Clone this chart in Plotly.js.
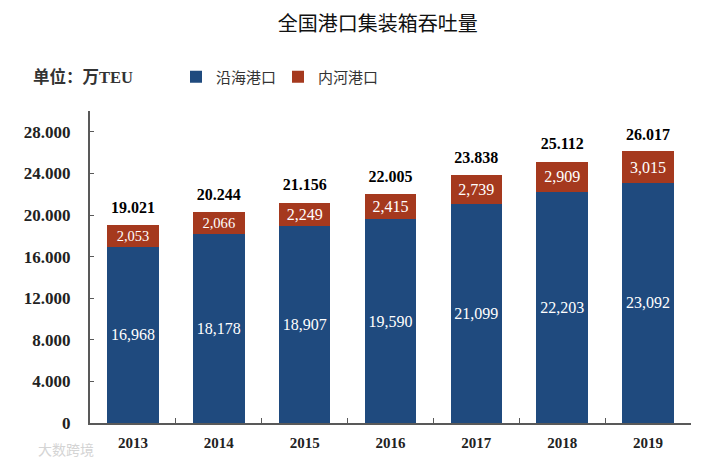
<!DOCTYPE html>
<html>
<head>
<meta charset="utf-8">
<script src="https://cdn.plot.ly/plotly-3.0.1.min.js"></script>
<style>html,body{margin:0;padding:0;background:#fff;}#chart{width:710px;height:464px;}</style>
</head>
<body>
<div id="chart"></div>
<script>
var years = ['2013', '2014', '2015', '2016', '2017', '2018', '2019'];
var coastal = [16968, 18178, 18907, 19590, 21099, 22203, 23092];
var inland = [2053, 2066, 2249, 2415, 2739, 2909, 3015];
var totals = [19021, 20244, 21156, 22005, 23838, 25112, 26017];
var yTickVals = [0, 4000, 8000, 12000, 16000, 20000, 24000, 28000];
var yTickText = ['0', '4.000', '8.000', '12.000', '16.000', '20.000', '24.000', '28.000'];
var seriesNames = ['沿海港口', '内河港口'];
var titleText = '全国港口集装箱吞吐量';
var unitText = '单位：万TEU';
var watermarkText = '大数跨境';

function fmt(v, sep) {
  var s = String(v);
  return s.replace(/\B(?=(\d{3})+(?!\d))/g, sep);
}

var serif = '"Liberation Serif", "Times New Roman", serif';
var cjk = '"Noto Sans CJK SC", sans-serif';

var traces = [
  {
    type: 'bar', name: seriesNames[0], x: years, y: coastal, legend: 'legend',
    marker: {color: '#1f4a7e'},
    text: coastal.map(function (v) { return fmt(v, ','); }),
    textposition: 'inside', insidetextanchor: 'middle',
    textfont: {family: serif, size: 16, color: '#ffffff'},
    hoverinfo: 'skip'
  },
  {
    type: 'bar', name: seriesNames[1], x: years, y: inland, legend: 'legend2',
    marker: {color: '#a5391e'},
    text: inland.map(function (v) { return fmt(v, ','); }),
    textposition: 'inside', insidetextanchor: 'middle',
    textfont: {family: serif, size: 16, color: '#ffffff'},
    hoverinfo: 'skip'
  },
  {
    type: 'scatter', mode: 'markers+text', x: years, y: totals, showlegend: false,
    marker: {size: 12, color: 'rgba(0,0,0,0)'},
    text: totals.map(function (t) { return '<b>' + fmt(t, '.') + '</b>'; }),
    textposition: 'top center',
    textfont: {family: serif, size: 16, color: '#000000'},
    hoverinfo: 'skip'
  }
];

var legendStyle = function (px) {
  return {
    orientation: 'h', x: (px - 90) / 601, xanchor: 'left', y: 1 + (111 - 77) / 312, yanchor: 'middle',
    font: {family: cjk, size: 15, color: '#333333'},
    bgcolor: 'rgba(0,0,0,0)'
  };
};

var layout = {
  width: 710, height: 464,
  margin: {l: 90, r: 19, t: 111, b: 41},
  paper_bgcolor: '#ffffff', plot_bgcolor: '#ffffff',
  barmode: 'stack', bargap: 0.4,
  title: {
    text: titleText, x: 0.532, xanchor: 'center', y: 1 - 24 / 464, yanchor: 'middle', yref: 'container',
    font: {family: cjk, size: 20, color: '#111111'}
  },
  showlegend: true,
  legend: legendStyle(176),
  legend2: legendStyle(278),
  xaxis: {
    type: 'category', categoryorder: 'array', categoryarray: years,
    range: [-0.5, 6.5],
    tickvals: years, ticktext: years.map(function (s) { return '<b>' + s + '</b>'; }),
    showline: true, linecolor: '#595959', linewidth: 2,
    ticks: 'inside', tickson: 'boundaries', ticklen: 5, tickcolor: '#595959', tickwidth: 1,
    showgrid: false, zeroline: false,
    tickfont: {family: serif, size: 15, color: '#222222'},
    tickangle: 0, ticklabelstandoff: 5,
    fixedrange: true
  },
  yaxis: {
    range: [0, 30000], showline: true, linecolor: '#595959', linewidth: 2,
    tickvals: yTickVals, ticktext: yTickText.map(function (s) { return '<b>' + s + '</b>'; }),
    ticks: 'inside', ticklen: 4, tickcolor: '#595959', tickwidth: 1,
    showgrid: false, zeroline: false,
    tickfont: {family: serif, size: 17, color: '#222222'},
    ticklabelstandoff: 14,
    fixedrange: true
  },
  annotations: [{
    x: (31 - 90) / 601, y: 1 + (111 - 77) / 312, xref: 'paper', yref: 'paper',
    text: '<b>' + unitText + '</b>',
    showarrow: false, xanchor: 'left', yanchor: 'middle',
    font: {family: serif + ', ' + cjk, size: 16.5, color: '#333333'}
  }, {
    x: (36 - 90) / 601, y: -(449 - 423) / 312, xref: 'paper', yref: 'paper',
    text: watermarkText, showarrow: false, xanchor: 'left', yanchor: 'middle',
    font: {family: cjk, size: 14, color: '#d4d4d4'}
  }]
};

Plotly.newPlot('chart', traces, layout, {displayModeBar: false, staticPlot: true});
</script>
</body>
</html>
